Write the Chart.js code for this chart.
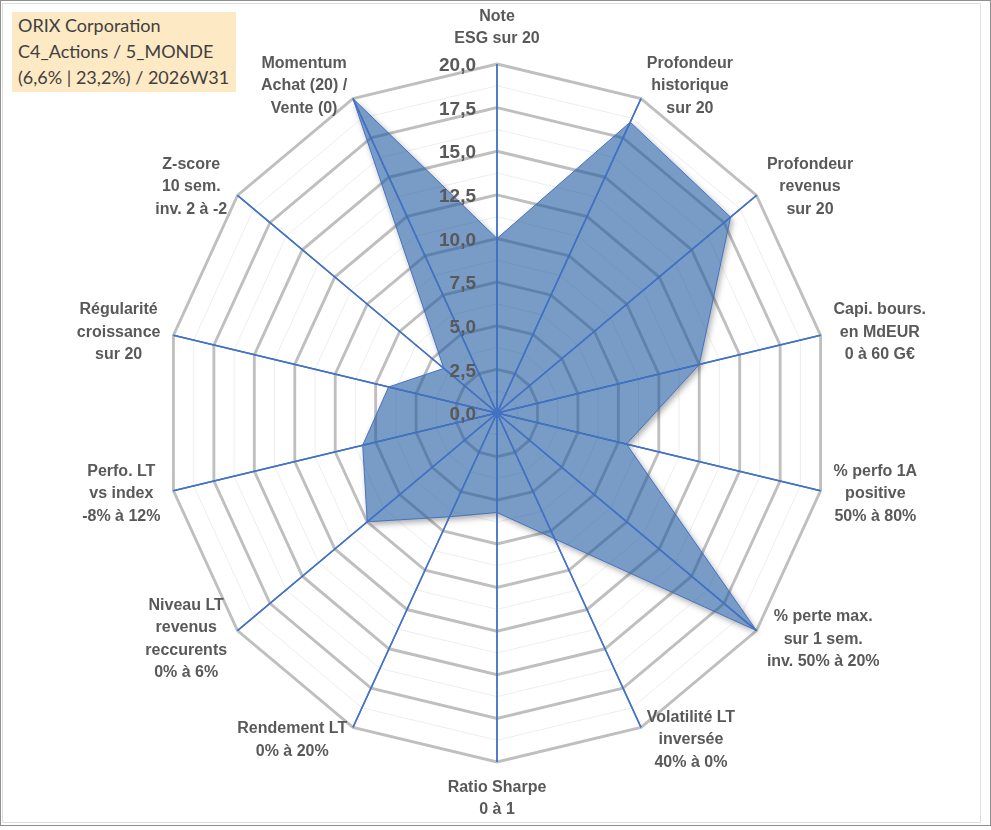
<!DOCTYPE html>
<html lang="fr">
<head>
<meta charset="UTF-8">
<title>ORIX Corporation - radar</title>
<script src="https://cdn.jsdelivr.net/npm/chart.js"></script>
<style>
    html, body { margin: 0; padding: 0; background: #fff; }
    #cadre { position: relative; width: 991px; height: 830px; overflow: hidden; background: #fff; }
    #bord { position: absolute; left: 0; top: 0; width: 991px; height: 826px; box-sizing: border-box; border: 1px solid #8f8f8f; }
    #bord-int { position: absolute; left: 2px; top: 3px; width: 979px; height: 820px; box-sizing: border-box; border: 1px solid #dedede; }
    #radar { position: absolute; left: 0; top: 0; }
    #titre {
        position: absolute; left: 12px; top: 12px; width: 224px; height: 80px;
        box-sizing: border-box; padding: 0 0 0 6px;
        background: #fde9c4; color: #404040;
        font: 18px Lato, "Open Sans", sans-serif; line-height: 26px;
    }
</style>
</head>
<body>
<div id="cadre">
    <div id="bord"></div>
    <div id="bord-int"></div>
    <canvas id="radar" width="991" height="830"></canvas>
    <div id="titre">ORIX Corporation<br>C4_Actions / 5_MONDE<br>(6,6% | 23,2%) / 2026W31</div>
</div>

<script>
    // Axes du radar (libellés sur plusieurs lignes)
    const axes = [
        ['Note', 'ESG sur 20'],
        ['Profondeur', 'historique', 'sur 20'],
        ['Profondeur', 'revenus', 'sur 20'],
        ['Capi. bours.', 'en MdEUR', '0 à 60 G€'],
        ['% perfo 1A', 'positive', '50% à 80%'],
        ['% perte max.', 'sur 1 sem.', 'inv. 50% à 20%'],
        ['Volatilité LT', 'inversée', '40% à 0%'],
        ['Ratio Sharpe', '0 à 1'],
        ['Rendement LT', '0% à 20%'],
        ['Niveau LT', 'revenus', 'reccurents', '0% à 6%'],
        ['Perfo. LT', 'vs index', '-8% à 12%'],
        ['Régularité', 'croissance', 'sur 20'],
        ['Z-score', '10 sem.', 'inv. 2 à -2'],
        ['Momentum', 'Achat (20) /', 'Vente (0)']
    ];

    // Notes sur 20
    const notes = [10, 18.5, 18, 12.5, 8, 20, 8, 5.7, 6.6, 10, 8.3, 6.7, 4.1, 20];

    // Graduations affichées
    const graduations = [0, 2.5, 5, 7.5, 10, 12.5, 15, 17.5, 20];

    const SX = 0.951;          // le graphique d'origine est un peu écrasé en largeur
    const GRIS = '#595959';
    const BLEU = '#4472c4';

    const fr = v => v.toFixed(1).replace('.', ',');

    // Écrase le radar horizontalement, ombre portée, axes au-dessus du remplissage
    const ellipse = {
        id: 'ellipse',
        beforeDraw(chart) {
            const r = chart.scales.r, ctx = chart.ctx;
            ctx.save();
            ctx.translate(r.xCenter, 0);
            ctx.scale(SX, 1);
            ctx.translate(-r.xCenter, 0);
        },
        beforeDatasetsDraw(chart) {
            // ombre visible seulement hors du polygone
            const pts = chart.getDatasetMeta(0).data, ctx = chart.ctx;
            ctx.save();
            ctx.beginPath();
            ctx.rect(-50, -50, chart.width + 100, chart.height + 100);
            pts.forEach((p, i) => i ? ctx.lineTo(p.x, p.y) : ctx.moveTo(p.x, p.y));
            ctx.closePath();
            ctx.clip('evenodd');
            ctx.beginPath();
            pts.forEach((p, i) => i ? ctx.lineTo(p.x, p.y) : ctx.moveTo(p.x, p.y));
            ctx.closePath();
            ctx.shadowColor = 'rgba(0, 0, 0, 0.35)';
            ctx.shadowBlur = 6;
            ctx.shadowOffsetX = 2;
            ctx.shadowOffsetY = 3;
            ctx.fillStyle = '#6d8fb8';
            ctx.fill();
            ctx.restore();
        },
        afterDatasetsDraw(chart) {
            const r = chart.scales.r, ctx = chart.ctx;
            ctx.save();
            ctx.strokeStyle = BLEU;
            ctx.lineWidth = 1.5;
            for (let i = 0; i < axes.length; i++) {
                const p = r.getPointPosition(i, r.drawingArea);
                ctx.beginPath();
                ctx.moveTo(r.xCenter, r.yCenter);
                ctx.lineTo(p.x, p.y);
                ctx.stroke();
            }
            ctx.restore();
            ctx.restore();
        },
        afterDraw(chart) {
            const r = chart.scales.r, ctx = chart.ctx;
            const sx = x => r.xCenter + (x - r.xCenter) * SX;
            ctx.save();
            ctx.fillStyle = GRIS;

            // graduations à gauche de l'axe vertical
            ctx.font = 'bold 19px "Liberation Sans", Arial, sans-serif';
            ctx.textAlign = 'right';
            ctx.textBaseline = 'middle';
            graduations.forEach(v => {
                const y = r.yCenter - r.getDistanceFromCenterForValue(v);
                ctx.fillText(fr(v), r.xCenter - 21, y + 2);
            });

            // libellés des axes
            ctx.font = 'bold 16px "Liberation Sans", Arial, sans-serif';
            ctx.textAlign = 'center';
            const lh = 22.5;
            axes.forEach((lignes, i) => {
                const a = r.getIndexAngle(i);
                const s = Math.sin(a), c = Math.cos(a);
                const p = r.getPointPosition(i, r.drawingArea + 14);
                const px = sx(p.x);
                const w = Math.max(...lignes.map(t => ctx.measureText(t).width));
                const h = lignes.length * lh;
                let cx, top;
                if (Math.abs(s) < 0.05) {
                    cx = px;
                    top = c > 0 ? p.y - h : p.y;
                } else {
                    cx = s > 0 ? px + w / 2 : px - w / 2;
                    top = p.y - h / 2;
                }
                lignes.forEach((t, k) => ctx.fillText(t, cx, top + lh * (k + 0.5)));
            });
            ctx.restore();
        }
    };

    new Chart(document.getElementById('radar'), {
        type: 'radar',
        data: {
            labels: axes,
            datasets: [{
                label: 'ORIX Corporation',
                data: notes,
                fill: true,
                backgroundColor: 'rgba(30, 90, 160, 0.6)',
                borderColor: BLEU,
                borderWidth: 1,
                pointRadius: 0,
                pointHoverRadius: 0
            }]
        },
        options: {
            responsive: false,
            animation: false,
            devicePixelRatio: 1,
            layout: { padding: { left: 148, right: 144, top: 64, bottom: 67 } },
            plugins: {
                legend: { display: false },
                tooltip: { enabled: false }
            },
            scales: {
                r: {
                    min: 0,
                    max: 20,
                    ticks: { display: false, stepSize: 1.25 },
                    grid: {
                        color: c => c.tick && c.tick.value % 2.5 === 0 ? '#bfbfbf' : '#ececec',
                        lineWidth: c => c.tick && c.tick.value % 2.5 === 0 ? 3 : 1
                    },
                    angleLines: { color: BLEU, lineWidth: 1.5 },
                    pointLabels: { display: false }
                }
            }
        },
        plugins: [ellipse]
    });
</script>
</body>
</html>
